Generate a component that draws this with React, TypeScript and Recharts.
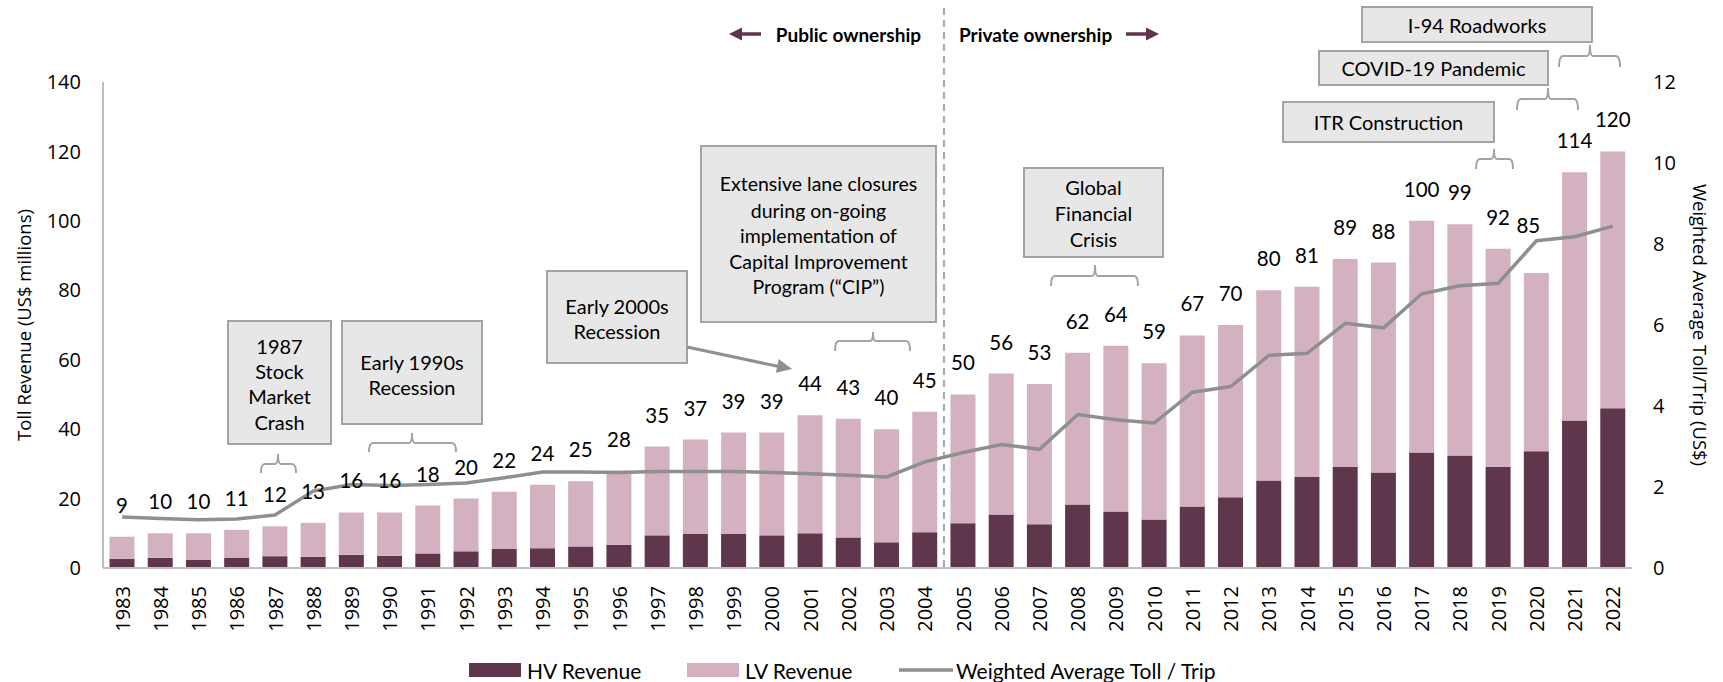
import React from "react";
import {
  Bar,
  ComposedChart,
  Customized,
  LabelList,
  Line,
  ReferenceLine,
  XAxis,
  YAxis,
} from "recharts";

const years = [
  "1983", "1984", "1985", "1986", "1987", "1988", "1989", "1990", "1991", "1992",
  "1993", "1994", "1995", "1996", "1997", "1998", "1999", "2000", "2001", "2002",
  "2003", "2004", "2005", "2006", "2007", "2008", "2009", "2010", "2011", "2012",
  "2013", "2014", "2015", "2016", "2017", "2018", "2019", "2020", "2021", "2022",
];

// total toll revenue (labels above bars), US$ millions
const totals = [
  9, 10, 10, 11, 12, 13, 16, 16, 18, 20, 22, 24, 25, 28, 35, 37, 39, 39, 44, 43,
  40, 45, 50, 56, 53, 62, 64, 59, 67, 70, 80, 81, 89, 88, 100, 99, 92, 85, 114, 120,
];

const hvRevenue = [
  2.7, 2.9, 2.4, 3.0, 3.4, 3.2, 3.8, 3.5, 4.2, 4.8, 5.5, 5.7, 6.2, 6.7, 9.4, 9.8,
  9.8, 9.4, 10.0, 8.8, 7.4, 10.3, 12.9, 15.4, 12.6, 18.3, 16.3, 14.0, 17.7, 20.4,
  25.2, 26.2, 29.1, 27.5, 33.3, 32.4, 29.2, 33.6, 42.5, 46.0,
];

const lvRevenue = [
  6.3, 7.1, 7.6, 8.0, 8.6, 9.8, 12.2, 12.5, 13.8, 15.2, 16.5, 18.3, 18.8, 21.3,
  25.6, 27.2, 29.2, 29.6, 34.0, 34.2, 32.6, 34.7, 37.1, 40.6, 40.4, 43.7, 47.7,
  45.0, 49.3, 49.6, 54.8, 54.8, 59.9, 60.5, 66.7, 66.6, 62.8, 51.4, 71.5, 74.0,
];

// weighted average toll per trip, US$
const avgToll = [
  1.26, 1.22, 1.19, 1.21, 1.31, 1.9, 2.06, 2.04, 2.06, 2.1, 2.23, 2.37, 2.37,
  2.36, 2.38, 2.38, 2.38, 2.36, 2.33, 2.29, 2.25, 2.62, 2.85, 3.05, 2.93, 3.79,
  3.66, 3.58, 4.34, 4.48, 5.25, 5.3, 6.04, 5.93, 6.77, 6.97, 7.03, 8.08, 8.18, 8.44,
];

const leftTicks = [0, 20, 40, 60, 80, 100, 120, 140];
const rightTicks = [0, 2, 4, 6, 8, 10, 12];

const data = years.map((year, i) => ({
  year,
  hv: hvRevenue[i],
  lv: lvRevenue[i],
  total: totals[i],
  toll: avgToll[i],
}));

const HV_COLOR = "#5F364B";
const LV_COLOR = "#D3B1C0";
const LINE_COLOR = "#8F8F8F";
const GRID_GRAY = "#BFBFBF";
const BOX_FILL = "#E7E7E7";
const BOX_STROKE = "#A3A3A3";
const AXIS_FONT = "'Open Sans', sans-serif";
const TEXT_FONT = "Lato, sans-serif";

const YearTick = (props: any) => {
  const { x, y, payload } = props;
  return (
    <text
      x={x}
      y={y}
      transform={`rotate(-90 ${x} ${y})`}
      textAnchor="end"
      dominantBaseline="central"
      fontSize={20}
      fontFamily={AXIS_FONT}
      fill="#000"
    >
      {payload.value}
    </text>
  );
};

const TotalLabel = (props: any) => {
  const { x, y, width, value, index } = props;
  // 2020 label sits higher in the source to clear the line
  const lift = years[index] === "2020" ? 48 : 32;
  const dx = years[index] === "2020" ? -8 : 0;
  return (
    <text
      x={x + width / 2 + dx}
      y={y - lift}
      textAnchor="middle"
      dominantBaseline="central"
      fontSize={20.5}
      fontFamily={TEXT_FONT}
      fill="#000"
    >
      {value}
    </text>
  );
};

const boxes = [
  { x0: 228, x1: 331, y0: 321, y1: 444, lines: ["1987", "Stock", "Market", "Crash"], ys: [346, 371, 396, 422] },
  { x0: 342, x1: 482, y0: 321, y1: 424, lines: ["Early 1990s", "Recession"], ys: [362, 387] },
  { x0: 547, x1: 687, y0: 271, y1: 363, lines: ["Early 2000s", "Recession"], ys: [306, 331] },
  {
    x0: 701, x1: 936, y0: 146, y1: 322,
    lines: ["Extensive lane closures", "during on-going", "implementation of", "Capital Improvement", "Program (\u201cCIP\u201d)"],
    ys: [183, 210, 235, 261, 286],
  },
  { x0: 1024, x1: 1163, y0: 168, y1: 257, lines: ["Global", "Financial", "Crisis"], ys: [187, 213, 239] },
  { x0: 1283, x1: 1494, y0: 102, y1: 142, lines: ["ITR Construction"], ys: [122] },
  { x0: 1319, x1: 1548, y0: 51, y1: 85, lines: ["COVID-19 Pandemic"], ys: [68] },
  { x0: 1362, x1: 1592, y0: 7, y1: 42, lines: ["I-94 Roadworks"], ys: [25] },
];

const braces = [
  { x0: 261, x1: 296, xc: 278, top: 454, mid: 464, end: 473 },
  { x0: 369, x1: 456, xc: 412, top: 433, mid: 443, end: 452 },
  { x0: 835, x1: 910, xc: 873, top: 332, mid: 341, end: 351 },
  { x0: 1051, x1: 1138, xc: 1095, top: 265, mid: 276, end: 286 },
  { x0: 1476, x1: 1513, xc: 1494, top: 149, mid: 159, end: 169 },
  { x0: 1517, x1: 1578, xc: 1548, top: 88, mid: 99, end: 110 },
  { x0: 1559, x1: 1620, xc: 1590, top: 45, mid: 56, end: 67 },
];

const bracePath = (b: any) =>
  `M ${b.x0} ${b.end} Q ${b.x0} ${b.mid} ${b.x0 + 4} ${b.mid} L ${b.xc - 3} ${b.mid} ` +
  `Q ${b.xc} ${b.mid} ${b.xc} ${b.top} Q ${b.xc} ${b.mid} ${b.xc + 3} ${b.mid} ` +
  `L ${b.x1 - 4} ${b.mid} Q ${b.x1} ${b.mid} ${b.x1} ${b.end}`;

const arrowHead = (x0: number, y0: number, x1: number, y1: number, len: number, half: number) => {
  const d = Math.hypot(x1 - x0, y1 - y0);
  const ux = (x1 - x0) / d;
  const uy = (y1 - y0) / d;
  const bx = x1 - ux * len;
  const by = y1 - uy * len;
  return `${x1},${y1} ${bx - uy * half},${by + ux * half} ${bx + uy * half},${by - ux * half}`;
};

const Annotations = () => (
  <g>
    {/* axis titles */}
    <text
      x={23}
      y={325}
      transform="rotate(-90 23 325)"
      textAnchor="middle"
      dominantBaseline="central"
      fontSize={18.5}
      fontFamily={AXIS_FONT}
      fill="#000"
    >
      Toll Revenue (US$ millions)
    </text>
    <text
      x={1700}
      y={325}
      transform="rotate(90 1700 325)"
      textAnchor="middle"
      dominantBaseline="central"
      fontSize={18.5}
      fontFamily={AXIS_FONT}
      fill="#000"
    >
      Weighted Average Toll/Trip (US$)
    </text>

    {boxes.map((b, i) => (
      <g key={i}>
        <rect x={b.x0} y={b.y0} width={b.x1 - b.x0} height={b.y1 - b.y0} fill={BOX_FILL} stroke={BOX_STROKE} strokeWidth={2} />
        {b.lines.map((t, j) => (
          <text
            key={j}
            x={(b.x0 + b.x1) / 2}
            y={b.ys[j]}
            textAnchor="middle"
            dominantBaseline="central"
            fontSize={i === 3 ? 19.5 : 20}
            fontFamily={TEXT_FONT}
            fill="#000"
          >
            {t}
          </text>
        ))}
      </g>
    ))}
    {braces.map((b, i) => (
      <path key={i} d={bracePath(b)} fill="none" stroke={BOX_STROKE} strokeWidth={2} />
    ))}

    {/* Early 2000s pointer */}
    <line x1={687} y1={347} x2={780} y2={366.8} stroke={LINE_COLOR} strokeWidth={3} />
    <polygon points={arrowHead(687, 347, 792, 369, 15, 7)} fill={LINE_COLOR} />

    {/* ownership labels */}
    <line x1={741} y1={34} x2={761} y2={34} stroke={HV_COLOR} strokeWidth={3.5} />
    <polygon points={arrowHead(761, 34, 729, 34, 13, 6.5)} fill={HV_COLOR} />
    <text x={921} y={34} textAnchor="end" dominantBaseline="central" fontSize={19} fontWeight={700} fontFamily={TEXT_FONT} fill="#000">
      Public ownership
    </text>
    <text x={959} y={34} textAnchor="start" dominantBaseline="central" fontSize={19} fontWeight={700} fontFamily={TEXT_FONT} fill="#000">
      Private ownership
    </text>
    <line x1={1126} y1={34} x2={1147} y2={34} stroke={HV_COLOR} strokeWidth={3.5} />
    <polygon points={arrowHead(1126, 34, 1159, 34, 13, 6.5)} fill={HV_COLOR} />

    {/* legend */}
    <rect x={469} y={663} width={52} height={14} fill={HV_COLOR} />
    <text x={527} y={670} dominantBaseline="central" fontSize={21} fontFamily={TEXT_FONT} fill="#000">HV Revenue</text>
    <rect x={687} y={663} width={52} height={14} fill={LV_COLOR} />
    <text x={745} y={670} dominantBaseline="central" fontSize={21} fontFamily={TEXT_FONT} fill="#000">LV Revenue</text>
    <line x1={899} y1={670} x2={953} y2={670} stroke={LINE_COLOR} strokeWidth={3.5} />
    <text x={956} y={670} dominantBaseline="central" fontSize={21} fontFamily={TEXT_FONT} fill="#000">
      Weighted Average Toll / Trip
    </text>
  </g>
);

const App = () => {
  return (
    <div style={{ position: "absolute", left: 0, top: 0 }}>
      <ComposedChart
        width={1723}
        height={682}
        data={data}
        margin={{ top: 82, right: 11, left: 23, bottom: 44 }}
        barCategoryGap="17%"
        style={{ fontFamily: AXIS_FONT, background: "#fff" }}
      >
        <XAxis
          dataKey="year"
          interval={0}
          tickLine={false}
          tickSize={0}
          tickMargin={18}
          height={70}
          axisLine={{ stroke: GRID_GRAY, strokeWidth: 2 }}
          tick={<YearTick />}
        />
        <YAxis
          yAxisId="left"
          domain={[0, 140]}
          ticks={leftTicks}
          width={80}
          tickLine={false}
          tickSize={0}
          tickMargin={22}
          axisLine={{ stroke: GRID_GRAY, strokeWidth: 2 }}
          tick={{ fontSize: 20, fill: "#000", fontFamily: AXIS_FONT }}
        />
        <YAxis
          yAxisId="right"
          orientation="right"
          domain={[0, 12]}
          ticks={rightTicks}
          width={80}
          tickLine={false}
          tickSize={0}
          tickMargin={21}
          axisLine={false}
          tick={{ fontSize: 20, fill: "#000", fontFamily: AXIS_FONT }}
        />
        <ReferenceLine
          x="2005"
          yAxisId="left"
          position="start"
          stroke="#A6A6A6"
          strokeWidth={2}
          strokeDasharray="7 5"
          shape={(p: any) => (
            <line
              x1={p.x1}
              x2={p.x2}
              y1={8}
              y2={Math.max(p.y1, p.y2)}
              stroke="#A6A6A6"
              strokeWidth={2}
              strokeDasharray="7 5"
            />
          )}
        />
        <Bar dataKey="hv" stackId="rev" yAxisId="left" fill={HV_COLOR} isAnimationActive={false} />
        <Bar dataKey="lv" stackId="rev" yAxisId="left" fill={LV_COLOR} isAnimationActive={false}>
          <LabelList dataKey="total" content={<TotalLabel />} />
        </Bar>
        <Line
          type="linear"
          dataKey="toll"
          yAxisId="right"
          stroke={LINE_COLOR}
          strokeWidth={3.5}
          dot={false}
          activeDot={false}
          isAnimationActive={false}
        />
        <Customized component={Annotations} />
      </ComposedChart>
    </div>
  );
};

export default App;
